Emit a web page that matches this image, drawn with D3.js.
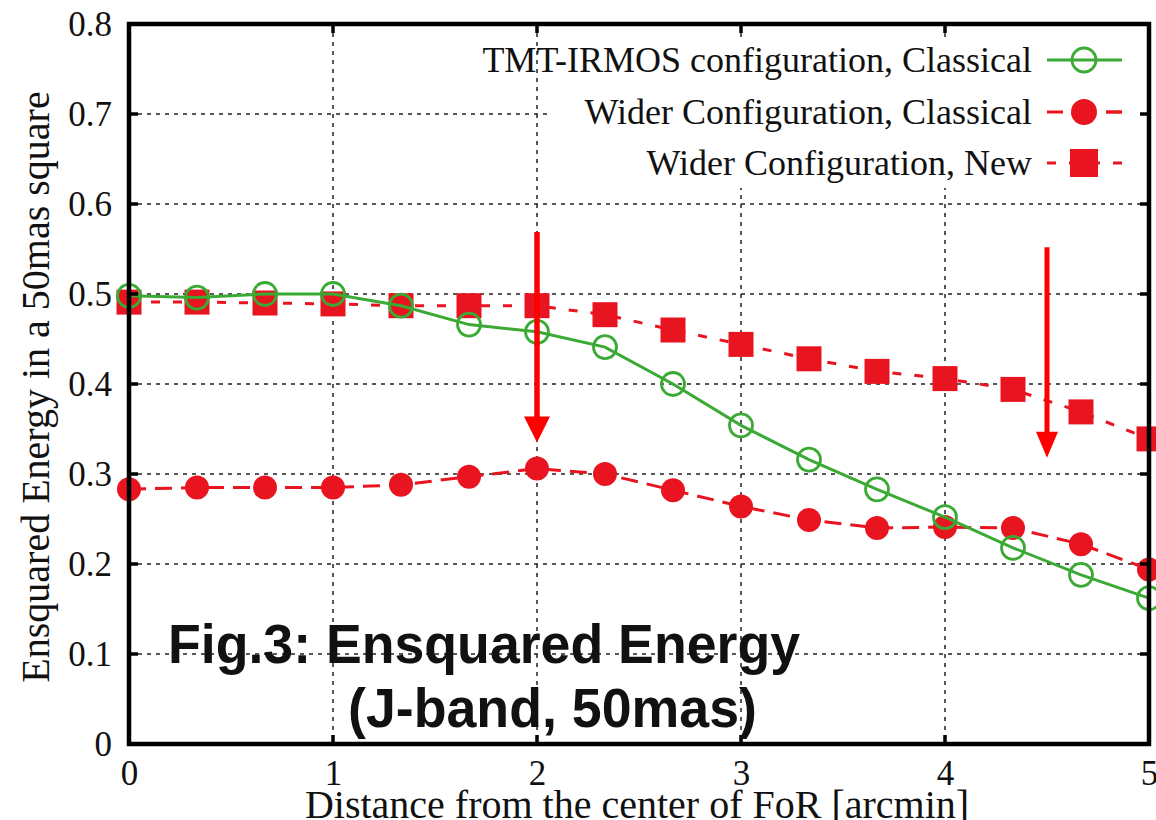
<!DOCTYPE html>
<html>
<head>
<meta charset="utf-8">
<script src="https://cdn.jsdelivr.net/npm/d3@7"></script>
<style>
	html, body { margin: 0; padding: 0; background: #fff; }
	svg { display: block; }
	.tick-label { font-family: 'Liberation Serif', 'Times New Roman', serif; font-size: 35px; fill: #111; }
	.axis-title { font-family: 'Liberation Serif', 'Times New Roman', serif; font-size: 40px; fill: #111; }
	.key-label { font-family: 'Liberation Serif', 'Times New Roman', serif; font-size: 36px; fill: #111; }
	.caption { font-family: 'Liberation Sans', Arial, sans-serif; font-weight: bold; font-size: 56px; fill: #111; }
</style>
</head>
<body>
<script>
(function() {
	'use strict';

	// DATA //

	var distances = [ 0, 1/3, 2/3, 1, 4/3, 5/3, 2, 7/3, 8/3, 3, 10/3, 11/3, 4, 13/3, 14/3, 5 ];

	var tmtClassical = [ 0.498, 0.496, 0.500, 0.500, 0.487, 0.466, 0.458, 0.441, 0.400, 0.354, 0.316, 0.283, 0.252, 0.218, 0.188, 0.162 ];

	var widerClassical = [ 0.283, 0.285, 0.285, 0.285, 0.288, 0.297, 0.306, 0.300, 0.282, 0.264, 0.249, 0.240, 0.241, 0.240, 0.222, 0.194 ];

	var widerNew = [ 0.491, 0.491, 0.490, 0.489, 0.487, 0.487, 0.487, 0.477, 0.460, 0.444, 0.428, 0.414, 0.406, 0.394, 0.369, 0.339 ];

	var xTicks = [ 0, 1, 2, 3, 4, 5 ];
	var yTicks = [ 0, 0.1, 0.2, 0.3, 0.4, 0.5, 0.6, 0.7, 0.8 ];

	var seriesNames = [
		'TMT-IRMOS configuration, Classical',
		'Wider Configuration, Classical',
		'Wider Configuration, New'
	];

	// Arrows: [ x, start value, tip value ]
	var arrowX = [ 2, 4.5 ];
	var arrowFrom = [ 0.569, 0.552 ];
	var arrowTo = [ 0.335, 0.318 ];

	var captionLines = [ 'Fig.3: Ensquared Energy', '(J-band, 50mas)' ];


	// VARIABLES //

	var WIDTH = 1156,
		HEIGHT = 820,
		LEFT = 129,
		RIGHT = 1149,
		TOP = 24,
		BOTTOM = 744,
		TICK = 9,
		GREEN = '#3aaa35',
		RED = '#e8141f',
		ARROW = '#ff0000';

	var x = d3.scaleLinear().domain( [ 0, 5 ] ).range( [ LEFT, RIGHT ] ),
		y = d3.scaleLinear().domain( [ 0, 0.8 ] ).range( [ BOTTOM, TOP ] );

	function zip( values ) {
		return distances.map( function ( d, i ) {
			return [ d, values[ i ] ];
		});
	}


	// CANVAS //

	var canvas = d3.select( 'body' ).append( 'svg' )
		.attr( 'width', WIDTH )
		.attr( 'height', HEIGHT )
		.attr( 'viewBox', '0 0 ' + WIDTH + ' ' + HEIGHT );


	// GRID //

	var grid = canvas.append( 'g' )
		.attr( 'class', 'grid' )
		.attr( 'stroke', '#222' )
		.attr( 'stroke-width', 1.5 )
		.attr( 'stroke-dasharray', '4,5' );

	grid.selectAll( 'line.vgrid' )
		.data( xTicks.slice( 1, -1 ) )
	  .enter().append( 'line' )
		.attr( 'class', 'vgrid' )
		.attr( 'x1', function ( d ) { return x( d ); } )
		.attr( 'x2', function ( d ) { return x( d ); } )
		.attr( 'y1', TOP )
		.attr( 'y2', BOTTOM );

	grid.selectAll( 'line.hgrid' )
		.data( yTicks.slice( 1, -1 ) )
	  .enter().append( 'line' )
		.attr( 'class', 'hgrid' )
		.attr( 'x1', LEFT )
		.attr( 'x2', RIGHT )
		.attr( 'y1', function ( d ) { return y( d ); } )
		.attr( 'y2', function ( d ) { return y( d ); } );


	// KEY BACKGROUND //

	canvas.append( 'rect' )
		.attr( 'x', 552 )
		.attr( 'y', 38 )
		.attr( 'width', RIGHT - 552 - 3 )
		.attr( 'height', 150 )
		.attr( 'fill', '#fff' );


	// SERIES //

	var line = d3.line()
		.x( function ( d ) { return x( d[ 0 ] ); } )
		.y( function ( d ) { return y( d[ 1 ] ); } );

	var plot = canvas.append( 'g' ).attr( 'class', 'series' );

	// Wider configuration, new (squares, short dashes):
	plot.append( 'path' )
		.datum( zip( widerNew ) )
		.attr( 'd', line )
		.attr( 'fill', 'none' )
		.attr( 'stroke', RED )
		.attr( 'stroke-width', 3 )
		.attr( 'stroke-dasharray', '9,13' );

	plot.selectAll( 'rect.sq' )
		.data( zip( widerNew ) )
	  .enter().append( 'rect' )
		.attr( 'class', 'sq' )
		.attr( 'x', function ( d ) { return x( d[ 0 ] ) - 12.5; } )
		.attr( 'y', function ( d ) { return y( d[ 1 ] ) - 12.5; } )
		.attr( 'width', 25 )
		.attr( 'height', 25 )
		.attr( 'fill', RED );

	// Wider configuration, classical (filled circles, long dashes):
	plot.append( 'path' )
		.datum( zip( widerClassical ) )
		.attr( 'd', line )
		.attr( 'fill', 'none' )
		.attr( 'stroke', RED )
		.attr( 'stroke-width', 3 )
		.attr( 'stroke-dasharray', '17,9' );

	plot.selectAll( 'circle.dot' )
		.data( zip( widerClassical ) )
	  .enter().append( 'circle' )
		.attr( 'class', 'dot' )
		.attr( 'cx', function ( d ) { return x( d[ 0 ] ); } )
		.attr( 'cy', function ( d ) { return y( d[ 1 ] ); } )
		.attr( 'r', 12 )
		.attr( 'fill', RED );

	// TMT-IRMOS configuration (open circles, solid):
	plot.append( 'path' )
		.datum( zip( tmtClassical ) )
		.attr( 'd', line )
		.attr( 'fill', 'none' )
		.attr( 'stroke', GREEN )
		.attr( 'stroke-width', 3 );

	plot.selectAll( 'circle.ring' )
		.data( zip( tmtClassical ) )
	  .enter().append( 'circle' )
		.attr( 'class', 'ring' )
		.attr( 'cx', function ( d ) { return x( d[ 0 ] ); } )
		.attr( 'cy', function ( d ) { return y( d[ 1 ] ); } )
		.attr( 'r', 11.5 )
		.attr( 'fill', 'none' )
		.attr( 'stroke', GREEN )
		.attr( 'stroke-width', 2.8 );


	// ARROWS //

	var arrows = canvas.append( 'g' ).attr( 'class', 'arrows' );

	arrowX.forEach( function ( ax, i ) {
		var px = x( ax ),
			head = i === 0 ? 13 : 11,
			tip = y( arrowTo[ i ] ),
			base = tip - 26;

		arrows.append( 'line' )
			.attr( 'x1', px )
			.attr( 'x2', px )
			.attr( 'y1', y( arrowFrom[ i ] ) )
			.attr( 'y2', base + 2 )
			.attr( 'stroke', ARROW )
			.attr( 'stroke-width', i === 0 ? 5.5 : 5 );

		arrows.append( 'path' )
			.attr( 'd', 'M' + ( px - head ) + ',' + base + 'L' + ( px + head ) + ',' + base + 'L' + px + ',' + tip + 'Z' )
			.attr( 'fill', ARROW );
	});


	// AXES //

	var frame = canvas.append( 'g' ).attr( 'class', 'frame' );

	frame.append( 'rect' )
		.attr( 'x', LEFT )
		.attr( 'y', TOP )
		.attr( 'width', RIGHT - LEFT )
		.attr( 'height', BOTTOM - TOP )
		.attr( 'fill', 'none' )
		.attr( 'stroke', '#000' )
		.attr( 'stroke-width', 4.5 );

	// Inward ticks on all four sides:
	var ticks = frame.append( 'g' )
		.attr( 'stroke', '#000' )
		.attr( 'stroke-width', 3.5 );

	xTicks.slice( 1, -1 ).forEach( function ( d ) {
		ticks.append( 'line' )
			.attr( 'x1', x( d ) ).attr( 'x2', x( d ) )
			.attr( 'y1', BOTTOM ).attr( 'y2', BOTTOM - TICK );
		ticks.append( 'line' )
			.attr( 'x1', x( d ) ).attr( 'x2', x( d ) )
			.attr( 'y1', TOP ).attr( 'y2', TOP + TICK );
	});

	yTicks.slice( 1, -1 ).forEach( function ( d ) {
		ticks.append( 'line' )
			.attr( 'x1', LEFT ).attr( 'x2', LEFT + TICK )
			.attr( 'y1', y( d ) ).attr( 'y2', y( d ) );
		ticks.append( 'line' )
			.attr( 'x1', RIGHT ).attr( 'x2', RIGHT - TICK )
			.attr( 'y1', y( d ) ).attr( 'y2', y( d ) );
	});

	// Tick labels through the axis generators:
	var xAxis = d3.axisBottom( x )
		.tickValues( xTicks )
		.tickSize( 0 )
		.tickPadding( 16 )
		.tickFormat( d3.format( 'd' ) );

	var yAxis = d3.axisLeft( y )
		.tickValues( yTicks )
		.tickSize( 0 )
		.tickPadding( 17 )
		.tickFormat( function ( d ) {
			return d === 0 ? '0' : d3.format( '.1f' )( d );
		});

	var gx = canvas.append( 'g' )
		.attr( 'transform', 'translate(0,' + BOTTOM + ')' )
		.call( xAxis );

	var gy = canvas.append( 'g' )
		.attr( 'transform', 'translate(' + LEFT + ',0)' )
		.call( yAxis );

	[ gx, gy ].forEach( function ( g ) {
		g.attr( 'font-family', null ).attr( 'font-size', null );
		g.select( '.domain' ).remove();
		g.selectAll( 'text' ).attr( 'class', 'tick-label' ).attr( 'fill', null );
	});

	canvas.append( 'text' )
		.attr( 'class', 'axis-title' )
		.attr( 'x', ( LEFT + RIGHT ) / 2 - 2 )
		.attr( 'y', 818 )
		.attr( 'text-anchor', 'middle' )
		.text( 'Distance from the center of FoR [arcmin]' );

	canvas.append( 'text' )
		.attr( 'class', 'axis-title' )
		.attr( 'transform', 'translate(49,' + ( ( TOP + BOTTOM ) / 2 + 3 ) + ') rotate(-90)' )
		.attr( 'text-anchor', 'middle' )
		.text( 'Ensquared Energy in a 50mas square' );


	// KEY //

	var keyRows = [ 60, 112, 163 ],
		key = canvas.append( 'g' ).attr( 'class', 'key' );

	seriesNames.forEach( function ( name, i ) {
		key.append( 'text' )
			.attr( 'class', 'key-label' )
			.attr( 'x', 1032 )
			.attr( 'y', keyRows[ i ] + 12 )
			.attr( 'text-anchor', 'end' )
			.text( name );
	});

	key.append( 'line' )
		.attr( 'x1', 1047 ).attr( 'x2', 1122 )
		.attr( 'y1', keyRows[ 0 ] ).attr( 'y2', keyRows[ 0 ] )
		.attr( 'stroke', GREEN ).attr( 'stroke-width', 3 );
	key.append( 'circle' )
		.attr( 'cx', 1084 ).attr( 'cy', keyRows[ 0 ] ).attr( 'r', 12 )
		.attr( 'fill', 'none' ).attr( 'stroke', GREEN ).attr( 'stroke-width', 2.8 );

	key.append( 'line' )
		.attr( 'x1', 1047 ).attr( 'x2', 1122 )
		.attr( 'y1', keyRows[ 1 ] ).attr( 'y2', keyRows[ 1 ] )
		.attr( 'stroke', RED ).attr( 'stroke-width', 3 )
		.attr( 'stroke-dasharray', '16,43' );
	key.append( 'line' )
		.attr( 'x1', 1106 ).attr( 'x2', 1122 )
		.attr( 'y1', keyRows[ 1 ] ).attr( 'y2', keyRows[ 1 ] )
		.attr( 'stroke', RED ).attr( 'stroke-width', 3 );
	key.append( 'circle' )
		.attr( 'cx', 1084 ).attr( 'cy', keyRows[ 1 ] ).attr( 'r', 13 )
		.attr( 'fill', RED );

	key.append( 'line' )
		.attr( 'x1', 1047 ).attr( 'x2', 1122 )
		.attr( 'y1', keyRows[ 2 ] ).attr( 'y2', keyRows[ 2 ] )
		.attr( 'stroke', RED ).attr( 'stroke-width', 3 )
		.attr( 'stroke-dasharray', '9,13' );
	key.append( 'rect' )
		.attr( 'x', 1070 ).attr( 'y', keyRows[ 2 ] - 14 )
		.attr( 'width', 28 ).attr( 'height', 28 )
		.attr( 'fill', RED );


	// CAPTION //

	var captionX = [ 168, 348 ],
		captionY = [ 663, 727 ],
		captionW = [ 632, 409 ];

	captionLines.forEach( function ( txt, i ) {
		canvas.append( 'text' )
			.attr( 'class', 'caption' )
			.attr( 'x', captionX[ i ] )
			.attr( 'y', captionY[ i ] )
			.attr( 'textLength', captionW[ i ] )
			.attr( 'lengthAdjust', 'spacingAndGlyphs' )
			.text( txt );
	});

})();
</script>
</body>
</html>
